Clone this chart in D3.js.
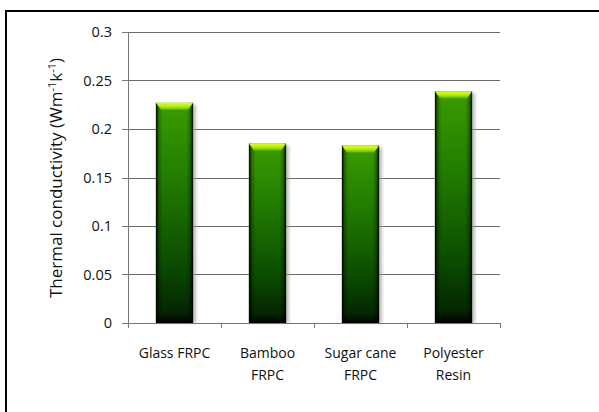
<!DOCTYPE html>
<html>
<head>
<meta charset="utf-8">
<script src="https://cdn.jsdelivr.net/npm/d3@7.9.0/dist/d3.min.js"></script>
<style>
  body { margin: 0; background: #fff; }
  svg { display: block; font-family: "Open Sans", "Noto Sans", sans-serif; }
</style>
</head>
<body>
<svg id="chart" width="599" height="412"></svg>
<script>
// Data
const categories = [["Glass FRPC"], ["Bamboo", "FRPC"], ["Sugar cane", "FRPC"], ["Polyester", "Resin"]];
const values = [0.227, 0.185, 0.183, 0.239];
const yTicks = [0, 0.05, 0.1, 0.15, 0.2, 0.25, 0.3];

const margin = { top: 32, left: 128 },
      width = 372,
      height = 291;

const svgContainer = d3.select("#chart");

// Outer frame
svgContainer.append("rect")
    .attr("x", 6).attr("y", 11)
    .attr("width", 620).attr("height", 420)
    .attr("fill", "none")
    .attr("stroke", "#000")
    .attr("stroke-width", 2);

const defs = svgContainer.append("defs");

// vertical body gradient
const bodyGrad = defs.append("linearGradient")
    .attr("id", "bodyGrad").attr("x1", 0).attr("y1", 0).attr("x2", 0).attr("y2", 1);
[[0, "#3a9c00"], [0.35, "#217c00"], [0.75, "#0a4a00"], [0.95, "#042600"], [1, "#000"]]
    .forEach(([o, c]) => bodyGrad.append("stop").attr("offset", o).attr("stop-color", c));

// side darkening
const sideGrad = defs.append("linearGradient")
    .attr("id", "sideGrad").attr("x1", 0).attr("y1", 0).attr("x2", 1).attr("y2", 0);
[[0, "#000", 0.95], [0.08, "#000", 0.25], [0.18, "#000", 0], [0.82, "#000", 0], [0.92, "#000", 0.25], [1, "#000", 0.95]]
    .forEach(([o, c, a]) => sideGrad.append("stop").attr("offset", o).attr("stop-color", c).attr("stop-opacity", a));

// top bevel
const bevelGrad = defs.append("linearGradient")
    .attr("id", "bevelGrad").attr("x1", 0).attr("y1", 0).attr("x2", 0).attr("y2", 1);
[[0, "#e0ff20"], [0.5, "#b8f000"], [1, "#5cb800"]]
    .forEach(([o, c]) => bevelGrad.append("stop").attr("offset", o).attr("stop-color", c));

const blur = defs.append("filter").attr("id", "shadow")
    .attr("x", "-20%").attr("y", "-10%").attr("width", "140%").attr("height", "120%");
blur.append("feGaussianBlur").attr("stdDeviation", 1.5);

const svg = svgContainer.append("g")
    .attr("transform", `translate(${margin.left},${margin.top})`);

const xScale = d3.scaleBand()
    .domain(d3.range(categories.length))
    .range([0, width])
    .paddingInner(0.6)
    .paddingOuter(0.3);

const yScale = d3.scaleLinear()
    .domain([0, 0.3])
    .range([height, 0]);

// Gridlines
svg.selectAll(".grid")
    .data(yTicks.slice(1))
    .enter()
    .append("line")
    .attr("x1", 0).attr("x2", width)
    .attr("y1", d => Math.round(yScale(d)) + 0.5)
    .attr("y2", d => Math.round(yScale(d)) + 0.5)
    .attr("stroke", "#6a6a6a");

// Bars
const bars = svg.selectAll(".bar")
    .data(values)
    .enter()
    .append("g");

bars.append("rect")
    .attr("x", (d, i) => xScale(i) + 3)
    .attr("y", d => yScale(d) + 2)
    .attr("width", xScale.bandwidth())
    .attr("height", d => height - yScale(d) - 2)
    .attr("fill", "#999")
    .attr("opacity", 0.6)
    .attr("filter", "url(#shadow)");

bars.append("rect")
    .attr("x", (d, i) => xScale(i))
    .attr("y", d => yScale(d))
    .attr("width", xScale.bandwidth())
    .attr("height", d => height - yScale(d))
    .attr("fill", "url(#bodyGrad)");

bars.append("rect")
    .attr("x", (d, i) => xScale(i))
    .attr("y", d => yScale(d))
    .attr("width", xScale.bandwidth())
    .attr("height", d => height - yScale(d))
    .attr("fill", "url(#sideGrad)");

bars.append("path")
    .attr("d", (d, i) => {
        const x0 = xScale(i), x1 = x0 + xScale.bandwidth(), y0 = yScale(d);
        return `M${x0},${y0}L${x1},${y0}L${x1 - 5},${y0 + 7}L${x0 + 5},${y0 + 7}Z`;
    })
    .attr("fill", "url(#bevelGrad)");

// Y-axis
svg.append("line")
    .attr("x1", 0.5).attr("x2", 0.5)
    .attr("y1", 0).attr("y2", height)
    .attr("stroke", "#777");

svg.selectAll(".ytick")
    .data(yTicks)
    .enter()
    .append("line")
    .attr("x1", -6).attr("x2", 0)
    .attr("y1", d => Math.round(yScale(d)) + 0.5)
    .attr("y2", d => Math.round(yScale(d)) + 0.5)
    .attr("stroke", "#777");

svg.selectAll(".ylabel")
    .data(yTicks)
    .enter()
    .append("text")
    .attr("x", -16)
    .attr("y", d => yScale(d))
    .attr("dy", "0.35em")
    .attr("text-anchor", "end")
    .style("font-size", "14.5px")
    .attr("fill", "#111")
    .text(d => d3.format("")(d));

// X-axis
svg.append("line")
    .attr("x1", 0).attr("x2", width)
    .attr("y1", height + 0.5).attr("y2", height + 0.5)
    .attr("stroke", "#777");

svg.selectAll(".xtick")
    .data(d3.range(categories.length + 1))
    .enter()
    .append("line")
    .attr("x1", i => Math.round(i * width / categories.length) + 0.5)
    .attr("x2", i => Math.round(i * width / categories.length) + 0.5)
    .attr("y1", height).attr("y2", height + 5)
    .attr("stroke", "#777");

const xl = svg.selectAll(".xlabel")
    .data(categories)
    .enter()
    .append("text")
    .attr("text-anchor", "middle")
    .attr("transform", (d, i) => `translate(${xScale(i) + xScale.bandwidth() / 2},${height + 35})`)
    .style("font-size", "14px")
    .attr("fill", "#111");

xl.selectAll("tspan")
    .data(d => d)
    .enter()
    .append("tspan")
    .attr("x", 0)
    .attr("dy", (d, i) => i === 0 ? 0 : 22)
    .text(d => d);

// Y-axis label
const yLab = svgContainer.append("text")
    .attr("transform", `translate(62,178) rotate(-90)`)
    .attr("text-anchor", "middle")
    .style("font-size", "17px")
    .attr("fill", "#111");
yLab.append("tspan").text("Thermal conductivity (Wm");
yLab.append("tspan").attr("dy", -6).style("font-size", "11px").text("-1");
yLab.append("tspan").attr("dy", 6).text("k");
yLab.append("tspan").attr("dy", -6).style("font-size", "11px").text("-1");
yLab.append("tspan").attr("dy", 6).text(")");
</script>
</body>
</html>
